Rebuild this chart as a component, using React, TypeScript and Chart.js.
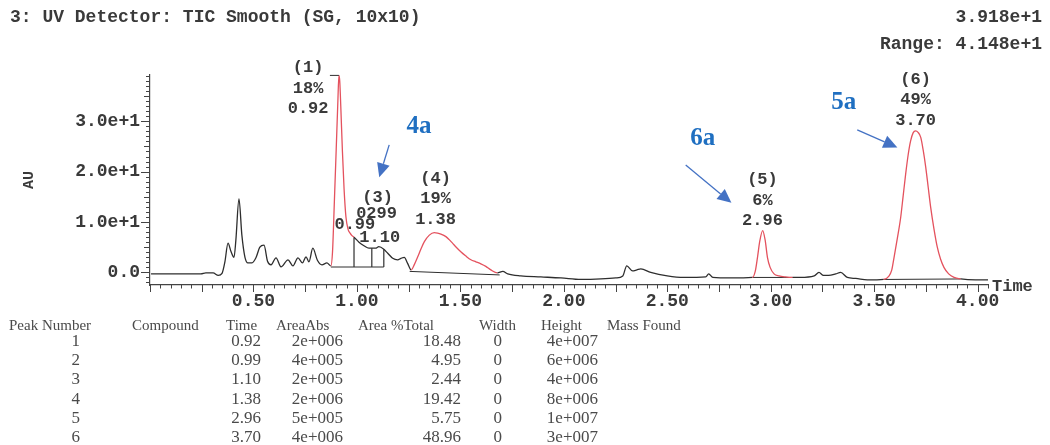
import React, { useEffect, useRef } from 'react';
import { Chart, registerables } from 'chart.js';

Chart.register(...registerables);

// ---------------- data ----------------
// chromatogram trace: retention time (min) and detector signal (AU)
const traceTime = [
  0.005, 0.15, 0.246, 0.27, 0.305, 0.33, 0.348, 0.362, 0.377, 0.391, 0.406, 0.415, 0.43, 0.444, 0.459,
  0.473, 0.493, 0.512, 0.531, 0.551, 0.568, 0.585, 0.609, 0.633, 0.667, 0.691, 0.715, 0.737, 0.754, 0.768,
  0.787, 0.809, 0.831, 0.855, 0.874,
  0.882, 0.891, 0.9, 0.908, 0.913, 0.917, 0.922, 0.93, 0.938, 0.947, 0.957, 0.967, 0.976, 0.986,
  1.01, 1.034, 1.058, 1.072, 1.09, 1.106, 1.13, 1.149, 1.173, 1.197, 1.213, 1.229, 1.245, 1.262,
  1.278, 1.294, 1.31, 1.326, 1.35, 1.374, 1.39, 1.406, 1.43, 1.446, 1.462, 1.48, 1.502, 1.525, 1.551,
  1.575, 1.599, 1.623, 1.647, 1.679,
  1.705, 1.729, 1.792, 1.889, 1.986, 2.082, 2.179, 2.251, 2.285, 2.304, 2.332, 2.353, 2.372, 2.42, 2.5,
  2.58, 2.686, 2.7, 2.72, 2.807, 2.911,
  2.925, 2.936, 2.947, 2.961, 2.973, 2.984, 2.997, 3.016, 3.04, 3.07, 3.106,
  3.143, 3.21, 3.233, 3.255, 3.28, 3.314, 3.338, 3.37, 3.411, 3.467, 3.546,
  3.57, 3.585, 3.596, 3.612, 3.628, 3.64, 3.652, 3.664, 3.676, 3.688, 3.7, 3.712, 3.725, 3.737, 3.749,
  3.761, 3.773, 3.789, 3.805, 3.821, 3.837, 3.86, 3.886, 3.918,
  3.99, 4.05,
];
const traceAU = [
  -0.3, -0.3, -0.3, -0.1, -0.1, -0.6, -0.2, 2.1, 5.8, 4.2, 3.0, 6.4, 14.6, 7.4, 3.0,
  1.9, 1.9, 2.9, 5.0, 5.4, 2.2, 1.5, 2.9, 1.1, 2.5, 1.3, 2.9, 1.9, 3.1, 2.1,
  4.8, 2.4, 1.5, 1.9, 1.3,
  4.0, 14.0, 24.5, 34.0, 39.1, 38.0, 33.0, 24.0, 16.5, 11.0, 8.6, 7.8, 7.3, 7.0,
  6.0, 5.3, 4.8, 4.8, 4.8, 5.1, 4.6, 3.8, 2.8, 2.5, 2.8, 3.0, 1.8, 0.5,
  1.6, 3.1, 4.7, 6.1, 7.4, 7.9, 7.8, 7.6, 7.1, 6.5, 5.8, 5.0, 4.1, 3.3, 2.5,
  2.1, 1.7, 1.2, 0.5, -0.1,
  0.2, -0.3, -0.7, -0.9, -1.1, -1.4, -1.3, -1.1, -0.7, 1.3, 0.3, 0.5, 0.7, 0.0, -0.7,
  -1.0, -0.9, -0.3, -1.0, -1.1, -1.0,
  0.2, 3.0, 6.2, 8.3, 6.4, 3.0, 1.0, -0.3, -0.7, -0.9, -1.0,
  -1.0, -0.7, 0.0, -0.6, -0.6, -0.3, 0.0, -1.0, -1.2, -1.5, -1.4,
  -0.8, 0.5, 3.0, 6.8, 10.9, 15.2, 19.5, 23.3, 26.1, 27.7, 28.1, 27.8, 26.8, 24.2, 20.9,
  16.9, 12.9, 8.6, 5.0, 2.6, 1.0, -0.3, -1.0, -1.3,
  -1.5, -1.5,
];

// integrated (red) windows
const redStart = [0.874, 1.262, 2.911, 3.546];
const redEnd = [0.986, 1.679, 3.106, 3.918];

// integration baselines
const baseStartT = [0.874, 1.255, 2.911, 3.546];
const baseEndT = [1.13, 1.69, 3.106, 3.918];
const baseStartAU = [1.07, 0.2, -1.0, -1.4];
const baseEndAU = [1.07, -0.5, -1.0, -1.3];

// vertical drop lines between co-eluting peaks
const dropTimes = [0.986, 1.072, 1.13];
const dropBaseAU = 1.07;

// peak labels drawn on the chart
const labelIds = ['(1)', '(4)', '(5)', '(6)'];
const labelPct = ['18%', '19%', '6%', '49%'];
const labelTimes = ['0.92', '1.38', '2.96', '3.70'];
const crowdedTexts = ['(3)', '0299', '0.99', '1.10'];

// peak table
const peakNumbers = ['1', '2', '3', '4', '5', '6'];
const peakTimes = ['0.92', '0.99', '1.10', '1.38', '2.96', '3.70'];
const peakAreaAbs = ['2e+006', '4e+005', '2e+005', '2e+006', '5e+005', '4e+006'];
const peakAreaPct = ['18.48', '4.95', '2.44', '19.42', '5.75', '48.96'];
const peakWidths = ['0', '0', '0', '0', '0', '0'];
const peakHeights = ['4e+007', '6e+006', '4e+006', '8e+006', '1e+007', '3e+007'];
const tableHeaders = ['Peak Number', 'Compound', 'Time', 'AreaAbs', 'Area %Total', 'Width', 'Height', 'Mass Found'];

// axes
const xTickValues = [0.5, 1, 1.5, 2, 2.5, 3, 3.5, 4];
const yTickValues = [0, 10, 20, 30];
const yTickLabels = ['0.0', '1.0e+1', '2.0e+1', '3.0e+1'];

// header texts & callouts
const titleText = '3: UV Detector: TIC Smooth (SG, 10x10)';
const maxText = '3.918e+1';
const rangeText = 'Range: 4.148e+1';
const calloutTexts = ['4a', '6a', '5a'];

// ---------------- layout / style ----------------
const MONO = '"Liberation Mono", "DejaVu Sans Mono", monospace';
const SERIF = '"Liberation Serif", "DejaVu Serif", serif';
const BLACK = '#2e2e2e';
const RED = '#e4525e';
const AXIS = '#444';
const BLUE_TXT = '#1f6fc1';
const BLUE_ARROW = '#4472c4';

const L = {
  labelAnchors: [
    { t: 0.764, v: 32.4 },
    { t: 1.38, v: 10.5 },
    { t: 2.96, v: 10.2 },
    { t: 3.7, v: 30.2 },
  ],
  labelGap: 20.5,
  crowded: [
    { t: 1.1, v: 14.9 },
    { t: 1.095, v: 11.7 },
    { t: 0.99, v: 9.4 },
    { t: 1.11, v: 6.8 },
  ],
  callouts: [
    { t: 1.3, v: 28.9, from: [1.156, 25.3], to: [1.108, 18.9] },
    { t: 2.671, v: 26.5, from: [2.589, 21.3], to: [2.81, 13.8] },
    { t: 3.353, v: 33.8, from: [3.418, 28.3], to: [3.612, 24.8] },
  ],
};

const inRed = (a: number, b: number) =>
  redStart.some((s, i) => a >= s - 1e-9 && b <= redEnd[i] + 1e-9);

const decorPlugin = {
  id: 'decor',
  beforeDatasetsDraw(chart: any) {
    const { ctx, scales } = chart;
    const xs = scales.x;
    const ys = scales.y;
    ctx.save();
    ctx.fillStyle = '#3a3a3a';
    ctx.font = `bold 17px ${MONO}`;
    ctx.textAlign = 'center';
    ctx.textBaseline = 'middle';
    L.labelAnchors.forEach((a, i) => {
      const x = xs.getPixelForValue(a.t);
      const yb = ys.getPixelForValue(a.v);
      ctx.fillText(labelIds[i], x, yb - 2 * L.labelGap);
      ctx.fillText(labelPct[i], x, yb - L.labelGap);
      ctx.fillText(labelTimes[i], x, yb);
    });
    L.crowded.forEach((a, i) => {
      ctx.fillText(crowdedTexts[i], xs.getPixelForValue(a.t), ys.getPixelForValue(a.v));
    });
    ctx.restore();
  },
  afterDraw(chart: any) {
    const { ctx, scales, chartArea } = chart;
    const xs = scales.x;
    const ys = scales.y;
    ctx.save();
    // tick marks
    ctx.strokeStyle = AXIS;
    ctx.lineWidth = 1;
    ctx.beginPath();
    for (let k = 0; k <= 81; k++) {
      const x = Math.round(xs.getPixelForValue(k * 0.05)) + 0.5;
      const len = k % 5 === 0 ? 7 : 3.5;
      ctx.moveTo(x, chartArea.bottom);
      ctx.lineTo(x, chartArea.bottom + len);
    }
    for (let v = -2; v <= 39; v++) {
      const y = Math.round(ys.getPixelForValue(v)) + 0.5;
      const len = v % 10 === 0 ? 9 : v % 5 === 0 ? 6 : 4;
      ctx.moveTo(chartArea.left - len, y);
      ctx.lineTo(chartArea.left, y);
    }
    ctx.stroke();
    // apex marker on peak 1
    const iMax = traceAU.indexOf(Math.max(...traceAU));
    const ax = xs.getPixelForValue(traceTime[iMax]);
    const ay = ys.getPixelForValue(traceAU[iMax]);
    ctx.strokeStyle = BLACK;
    ctx.beginPath();
    ctx.moveTo(ax - 9, ay);
    ctx.lineTo(ax, ay);
    ctx.stroke();
    // "Time" axis name
    ctx.fillStyle = '#3a3a3a';
    ctx.font = `bold 17px ${MONO}`;
    ctx.textAlign = 'left';
    ctx.textBaseline = 'middle';
    ctx.fillText('Time', chartArea.right + 4, chartArea.bottom + 2);
    // blue callouts
    L.callouts.forEach((c, i) => {
      ctx.fillStyle = BLUE_TXT;
      ctx.font = `bold 25px ${SERIF}`;
      ctx.textAlign = 'center';
      ctx.textBaseline = 'middle';
      ctx.fillText(calloutTexts[i], xs.getPixelForValue(c.t), ys.getPixelForValue(c.v));
      const x1 = xs.getPixelForValue(c.from[0]);
      const y1 = ys.getPixelForValue(c.from[1]);
      const x2 = xs.getPixelForValue(c.to[0]);
      const y2 = ys.getPixelForValue(c.to[1]);
      const ang = Math.atan2(y2 - y1, x2 - x1);
      const hl = 14;
      const hw = 6.5;
      const bx = x2 - hl * Math.cos(ang);
      const by = y2 - hl * Math.sin(ang);
      ctx.strokeStyle = BLUE_ARROW;
      ctx.lineWidth = 1.3;
      ctx.beginPath();
      ctx.moveTo(x1, y1);
      ctx.lineTo(bx, by);
      ctx.stroke();
      ctx.fillStyle = BLUE_ARROW;
      ctx.beginPath();
      ctx.moveTo(x2, y2);
      ctx.lineTo(bx + hw * Math.sin(ang), by - hw * Math.cos(ang));
      ctx.lineTo(bx - hw * Math.sin(ang), by + hw * Math.cos(ang));
      ctx.closePath();
      ctx.fill();
    });
    ctx.restore();
  },
};

const tickFont = { family: MONO, size: 18, weight: 'bold' as const };

export default function App() {
  const ref = useRef<HTMLCanvasElement>(null);

  useEffect(() => {
    const canvas = ref.current;
    if (!canvas) return;
    const traceData = traceTime.map((t, i) => ({ x: t, y: traceAU[i] }));
    const baseSets = baseStartT.map((t, i) => ({
      data: [
        { x: t, y: baseStartAU[i] },
        { x: baseEndT[i], y: baseEndAU[i] },
      ],
      borderColor: BLACK,
      borderWidth: 1,
      pointRadius: 0,
      tension: 0,
      order: 2,
    }));
    const dropSets = dropTimes.map((t) => ({
      data: [
        { x: t, y: dropBaseAU },
        { x: t, y: traceAU[traceTime.indexOf(t)] },
      ],
      borderColor: BLACK,
      borderWidth: 1.2,
      pointRadius: 0,
      tension: 0,
      order: 2,
    }));
    const chart = new Chart(canvas, {
      type: 'line',
      data: {
        datasets: [
          {
            data: traceData,
            borderColor: BLACK,
            borderWidth: 1.3,
            pointRadius: 0,
            cubicInterpolationMode: 'monotone',
            segment: {
              borderColor: (c: any) => (inRed(c.p0.parsed.x, c.p1.parsed.x) ? RED : BLACK),
            },
            order: 1,
          } as any,
          ...baseSets,
          ...dropSets,
        ],
      },
      options: {
        responsive: false,
        animation: false,
        devicePixelRatio: 1,
        events: [],
        layout: { padding: { left: 0, top: 75, right: 62, bottom: 0 } },
        plugins: { legend: { display: false }, tooltip: { enabled: false }, title: { display: false } },
        scales: {
          x: {
            type: 'linear',
            min: 0,
            max: 4.05,
            afterFit: (s: any) => {
              s.height = 160;
            },
            afterBuildTicks: (s: any) => {
              s.ticks = xTickValues.map((v) => ({ value: v }));
            },
            grid: { display: false, drawTicks: false },
            border: { display: true, color: AXIS, width: 1.2 },
            ticks: {
              autoSkip: false,
              maxRotation: 0,
              padding: 6,
              color: '#3a3a3a',
              font: tickFont,
              callback: (v: any) => Number(v).toFixed(2),
            },
          },
          y: {
            type: 'linear',
            min: -2.5,
            max: 39.18,
            afterFit: (s: any) => {
              s.width = 150;
            },
            afterBuildTicks: (s: any) => {
              s.ticks = yTickValues.map((v) => ({ value: v }));
            },
            grid: { display: false, drawTicks: false },
            border: { display: true, color: AXIS, width: 1.2 },
            title: {
              display: true,
              text: 'AU',
              color: '#3a3a3a',
              font: { family: MONO, size: 15, weight: 'bold' },
              padding: { top: 20, bottom: 0 },
            },
            ticks: {
              padding: 10,
              color: '#3a3a3a',
              font: tickFont,
              callback: (v: any) => yTickLabels[yTickValues.indexOf(Number(v))] ?? '',
            },
          },
        },
      } as any,
      plugins: [decorPlugin],
    });
    return () => chart.destroy();
  }, []);

  const headerStyle: React.CSSProperties = {
    position: 'absolute',
    font: `bold 18px ${MONO}`,
    color: '#3a3a3a',
    lineHeight: '20px',
    whiteSpace: 'pre',
  };
  const cell: React.CSSProperties = {
    position: 'absolute',
    font: `15px ${SERIF}`,
    color: '#4a4a4a',
    lineHeight: '16px',
    whiteSpace: 'pre',
  };
  const valueCell: React.CSSProperties = { ...cell, font: `17px ${SERIF}`, lineHeight: '18px' };
  const headerX = [9, 132, 226, 276, 358, 479, 541, 607];
  const rightEdges = [80, 261, 343, 461, 502, 598];
  const headerY = 325;
  const rowY0 = 341;
  const rowDy = 19.2;
  const columns = [peakNumbers, peakTimes, peakAreaAbs, peakAreaPct, peakWidths, peakHeights];

  return (
    <div style={{ position: 'fixed', left: 0, top: 0, width: 1050, height: 445, background: '#fff', overflow: 'hidden' }}>
      <canvas ref={ref} width={1050} height={445} style={{ position: 'absolute', left: 0, top: 0, width: 1050, height: 445 }} />
      <div style={{ ...headerStyle, left: 10, top: 7 }}>{titleText}</div>
      <div style={{ ...headerStyle, right: 8, top: 7, textAlign: 'right' }}>{maxText}</div>
      <div style={{ ...headerStyle, right: 8, top: 34, textAlign: 'right' }}>{rangeText}</div>
      {tableHeaders.map((h, i) => (
        <div key={'h' + i} style={{ ...cell, left: headerX[i], top: headerY - 8 }}>
          {h}
        </div>
      ))}
      {columns.map((col, c) =>
        col.map((val, r) => (
          <div
            key={c + '-' + r}
            style={{ ...valueCell, left: 0, width: rightEdges[c], textAlign: 'right', top: rowY0 + r * rowDy - 9 }}
          >
            {val}
          </div>
        )),
      )}
    </div>
  );
}
